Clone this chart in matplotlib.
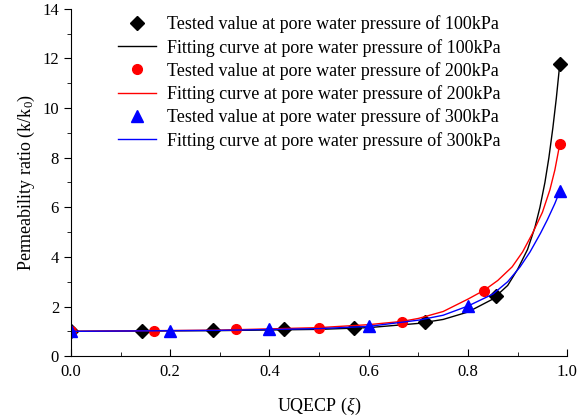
import matplotlib
matplotlib.use("Agg")
import matplotlib.pyplot as plt
from matplotlib.ticker import MultipleLocator

plt.rcParams["font.family"] = "Liberation Serif"
plt.rcParams["mathtext.fontset"] = "custom"
plt.rcParams["mathtext.rm"] = "Liberation Serif"
plt.rcParams["mathtext.it"] = "Liberation Serif:italic"

# --- tested values ---
xi_100 = [0.0, 0.143, 0.286, 0.429, 0.571, 0.714, 0.857, 0.985]
k_100 = [1.0, 1.0, 1.04, 1.09, 1.14, 1.36, 2.42, 11.78]
xi_200 = [0.0, 0.167, 0.333, 0.5, 0.667, 0.833, 0.985]
k_200 = [1.0, 1.02, 1.08, 1.15, 1.38, 2.62, 8.55]
xi_300 = [0.0, 0.2, 0.4, 0.6, 0.8, 0.985]
k_300 = [1.0, 1.02, 1.1, 1.2, 2.02, 6.65]

# --- fitting curves ---
fit_xi_100 = [0.0, 0.3, 0.5, 0.6, 0.7, 0.75, 0.8, 0.85, 0.88, 0.9, 0.92, 0.935,
              0.945, 0.955, 0.963, 0.971, 0.978, 0.985]
fit_k_100 = [1.0, 1.03, 1.08, 1.15, 1.32, 1.48, 1.78, 2.3, 2.85, 3.5, 4.3, 5.2,
             6.0, 7.0, 8.0, 9.2, 10.4, 11.78]
fit_xi_200 = [0.0, 0.3, 0.5, 0.6, 0.667, 0.7, 0.75, 0.8, 0.833, 0.86, 0.889, 0.91,
              0.93, 0.95, 0.965, 0.975, 0.985]
fit_k_200 = [1.0, 1.05, 1.15, 1.27, 1.4, 1.52, 1.8, 2.3, 2.66, 3.05, 3.6, 4.2,
             4.95, 5.8, 6.7, 7.5, 8.55]
fit_xi_300 = [0.0, 0.3, 0.5, 0.6, 0.7, 0.75, 0.8, 0.85, 0.88, 0.905, 0.925, 0.946,
              0.96, 0.975, 0.985]
fit_k_300 = [1.0, 1.04, 1.11, 1.2, 1.45, 1.65, 2.02, 2.5, 3.0, 3.6, 4.2, 4.95,
             5.5, 6.15, 6.65]

fig = plt.figure(figsize=(5.86, 4.2), dpi=100)
ax = fig.add_axes([0.121, 0.152, 0.847, 0.827])

ax.plot(xi_100, k_100, "D", color="black", markersize=7, linestyle="none",
        label="Tested value at pore water pressure of 100kPa")
ax.plot(fit_xi_100, fit_k_100, "-", color="black", linewidth=1,
        label="Fitting curve at pore water pressure of 100kPa")
ax.plot(xi_200, k_200, "o", color="red", markersize=7, linestyle="none",
        label="Tested value at pore water pressure of 200kPa")
ax.plot(fit_xi_200, fit_k_200, "-", color="red", linewidth=1,
        label="Fitting curve at pore water pressure of 200kPa")
ax.plot(xi_300, k_300, "^", color="blue", markersize=8, linestyle="none",
        label="Tested value at pore water pressure of 300kPa")
ax.plot(fit_xi_300, fit_k_300, "-", color="blue", linewidth=1,
        label="Fitting curve at pore water pressure of 300kPa")

ax.set_xlim(0, 1.0)
ax.set_ylim(0, 14)
ax.xaxis.set_major_locator(MultipleLocator(0.2))
ax.xaxis.set_minor_locator(MultipleLocator(0.1))
ax.yaxis.set_major_locator(MultipleLocator(2))
ax.yaxis.set_minor_locator(MultipleLocator(1))
ax.xaxis.set_major_formatter(plt.FormatStrFormatter("%.1f"))
ax.tick_params(axis="x", which="both", direction="in", labelsize=12, pad=6)
ax.tick_params(axis="y", which="both", direction="out", labelsize=12)
ax.tick_params(which="major", length=5)
ax.tick_params(which="minor", length=3)
ax.spines[["top", "right"]].set_visible(False)

ax.set_xlabel(r"UQECP ($\xi$)", fontsize=13, labelpad=11)
ax.set_ylabel(r"Permeability ratio (k/k$_0$)", fontsize=13)

ax.legend(loc="upper left", bbox_to_anchor=(0.062, 1.028), frameon=False,
          fontsize=13, handlelength=2.1, labelspacing=0.3, handletextpad=0.6)

fig.savefig("out.png", dpi=100)
